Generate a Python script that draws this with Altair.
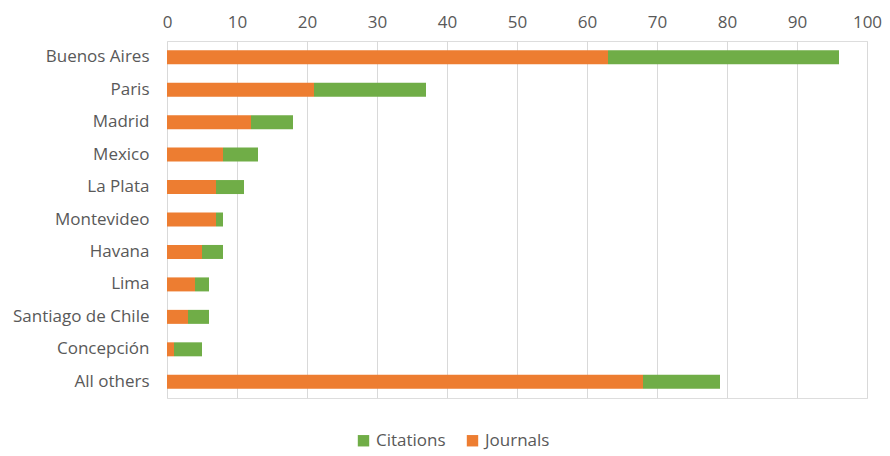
import altair as alt
import pandas as pd

cities = ["Buenos Aires", "Paris", "Madrid", "Mexico", "La Plata", "Montevideo",
          "Havana", "Lima", "Santiago de Chile", "Concepción", "All others"]
journals = [63, 21, 12, 8, 7, 7, 5, 4, 3, 1, 68]
citations = [33, 16, 6, 5, 4, 1, 3, 2, 3, 4, 11]

rows = []
for c, j, ci in zip(cities, journals, citations):
    rows.append({"city": c, "series": "Journals", "value": j, "ord": 0})
    rows.append({"city": c, "series": "Citations", "value": ci, "ord": 1})
df = pd.DataFrame(rows)

font = "Open Sans"
gray = "#595959"
fs = 17

chart = alt.Chart(df).mark_bar(size=14).encode(
    y=alt.Y("city:N", sort=cities, title=None,
            axis=alt.Axis(ticks=False, domain=False, labelFontSize=fs, labelColor=gray,
                          labelFont=font, labelPadding=18)),
    x=alt.X("value:Q", stack="zero", title=None,
            scale=alt.Scale(domain=[0, 100], nice=False),
            axis=alt.Axis(orient="top", values=list(range(0, 101, 10)), ticks=False,
                          domain=False, labelFontSize=fs, labelColor=gray, labelFont=font,
                          gridColor="#d9d9d9", gridWidth=1, labelPadding=10,
                          labelFlush=False)),
    color=alt.Color("series:N",
                    scale=alt.Scale(domain=["Citations", "Journals"],
                                    range=["#70AD47", "#ED7D31"]),
                    legend=alt.Legend(title=None, orient="none", direction="horizontal",
                                      legendX=188, legendY=391, symbolType="square",
                                      symbolSize=130, labelFontSize=fs, labelColor=gray,
                                      labelFont=font, columnPadding=18, symbolStrokeWidth=0)),
    order=alt.Order("ord:Q"),
).properties(
    width=700, height=357,
    autosize=alt.AutoSizeParams(type="none"),
    padding={"left": 167, "top": 41, "right": 23, "bottom": 58},
).configure_view(stroke=None).configure(background="white")

chart.save("out.html", embed_options={"renderer": "svg", "actions": False})
